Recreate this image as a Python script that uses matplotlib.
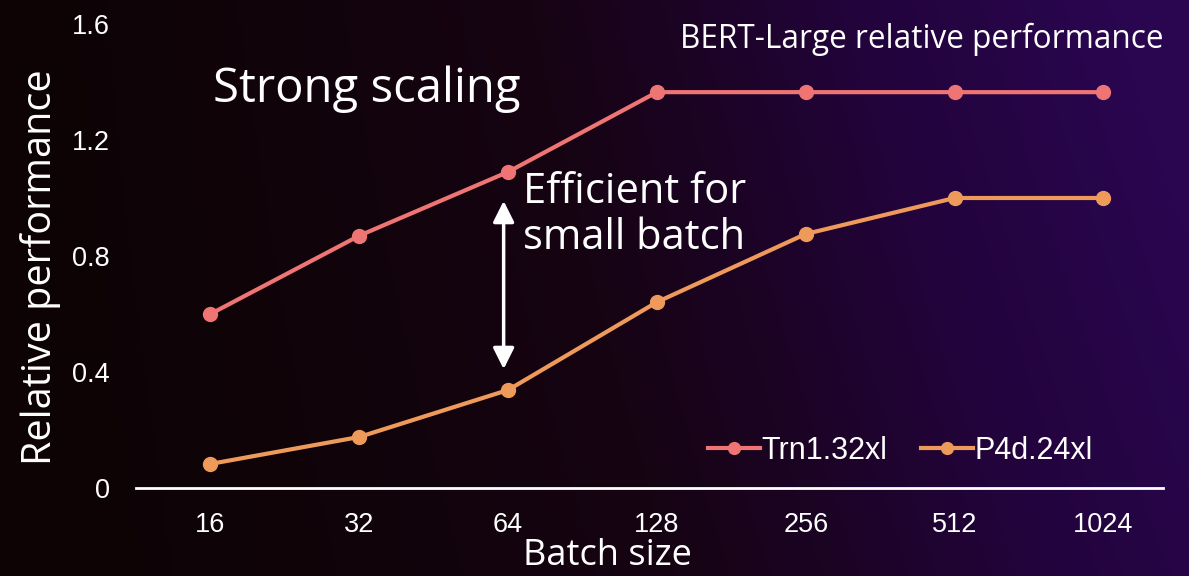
import numpy as np
import matplotlib
matplotlib.use("Agg")
import matplotlib.pyplot as plt
from matplotlib.colors import LinearSegmentedColormap

batch_sizes = ["16", "32", "64", "128", "256", "512", "1024"]
trn1_perf = [0.60, 0.87, 1.09, 1.365, 1.365, 1.365, 1.365]
p4d_perf = [0.083, 0.176, 0.338, 0.641, 0.876, 1.0, 1.0]
y_ticks = [0, 0.4, 0.8, 1.2, 1.6]
y_tick_labels = ["0", "0.4", "0.8", "1.2", "1.6"]

trn_color = "#EF7474"
p4d_color = "#EE9A5A"
title_font = ["Open Sans", "DejaVu Sans"]
num_font = ["Liberation Sans", "DejaVu Sans"]

fig = plt.figure(figsize=(11.89, 5.76), dpi=100)

# background gradient: near black on the left to dark purple on the right
bg = fig.add_axes([0, 0, 1, 1], zorder=-10)
gx, gy = np.meshgrid(np.linspace(0, 1, 300), np.linspace(0, 1, 150))
t = np.clip(0.85 * gx ** 1.6 + 0.25 * gx * gy, 0, 1)
cmap = LinearSegmentedColormap.from_list("bg", ["#0d0305", "#160312", "#22033a", "#2a0650"])
bg.imshow(t, cmap=cmap, aspect="auto", origin="lower", extent=[0, 1, 0, 1])
bg.axis("off")

ax = fig.add_axes([136 / 1189, 1 - 488 / 576, (1163 - 136) / 1189, (488 - 24) / 576])
ax.patch.set_alpha(0)
x = np.arange(len(batch_sizes))
ax.plot(x, trn1_perf, color=trn_color, lw=3, marker="o", ms=10, label="Trn1.32xl")
ax.plot(x, p4d_perf, color=p4d_color, lw=3, marker="o", ms=10, label="P4d.24xl")

ax.set_xlim(-0.5, 6.4)
ax.set_ylim(0, 1.6)
ax.set_xticks(x)
ax.set_xticklabels(batch_sizes, fontsize=19.5, family=num_font, color="white")
ax.set_yticks(y_ticks)
ax.set_yticklabels(y_tick_labels, fontsize=19.5, family=num_font, color="white")
ax.tick_params(axis="x", length=0, pad=17)
ax.tick_params(axis="y", length=0, pad=19)
for s in ["top", "right", "left"]:
    ax.spines[s].set_visible(False)
ax.spines["bottom"].set_color("white")
ax.spines["bottom"].set_linewidth(2)
ax.spines["bottom"].set_zorder(0)

ax.set_ylabel("Relative performance", fontsize=28.5, family=title_font, color="white")
ax.yaxis.set_label_coords(-0.073, 0.476)
ax.text(0.459, -0.147, "Batch size", transform=ax.transAxes, ha="center", va="center",
        fontsize=26, family=title_font, color="white")

ax.text(1.0, 0.966, "BERT-Large relative performance", transform=ax.transAxes,
        ha="right", va="center", fontsize=22.7, family=title_font, color="white")
ax.text(0.075, 0.86, "Strong scaling", transform=ax.transAxes,
        ha="left", va="center", fontsize=34, family=title_font, color="white")
ax.text(2.1, 0.94, "Efficient for\nsmall batch", ha="left", va="center",
        fontsize=30, family=title_font, color="white", linespacing=1.12)

ax.annotate("", xy=(1.97, 0.99), xytext=(1.97, 0.41),
            arrowprops=dict(arrowstyle="<|-|>", color="white", lw=2.5,
                            mutation_scale=32, shrinkA=0, shrinkB=0))

leg = ax.legend(loc="center right", bbox_to_anchor=(0.958, 0.08), ncol=2, frameon=False,
                handlelength=1.7, columnspacing=1.1, handletextpad=0.05, markerscale=0.85,
                prop={"family": num_font, "size": 22})
for txt in leg.get_texts():
    txt.set_color("white")

fig.savefig("out.png", dpi=100)
